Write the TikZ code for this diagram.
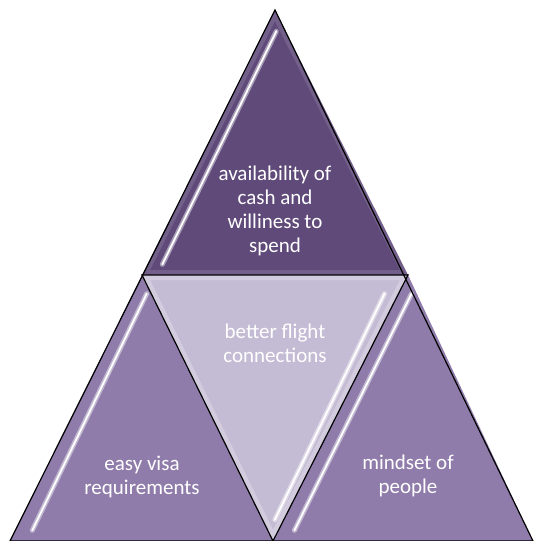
\documentclass[tikz,border=0pt]{standalone}
\usepackage{fontspec}
\setmainfont{Carlito}
\usetikzlibrary{calc}
\definecolor{topPurple}{RGB}{95,74,122}
\definecolor{sidePurple}{RGB}{143,124,170}
\definecolor{midLilac}{RGB}{196,188,212}
\tikzset{
	tri/.style={line width=1.2pt,draw=black,line join=miter},
	tritext/.style={text=white,align=center,font=\fontsize{21}{24}\selectfont},
	glow/.style={line cap=round,line width=5pt,color=white!45!#1},
	gloss/.style={line cap=round,line width=1.8pt,color=white}
}
\begin{document}
\begin{tikzpicture}[line join=round,x=1pt,y=-1pt]
		\useasboundingbox (0,0) rectangle (536,541);
		%%%%%%%%%%%%%%% C O R N E R S %%%%%%%%%%%%%%%%
		\coordinate (apex) at (275,10);
		\coordinate (midL) at (142,275);
		\coordinate (midR) at (408,275);
		\coordinate (baseL) at (10,541);
		\coordinate (baseM) at (273,541);
		\coordinate (baseR) at (533,541);
		%%%%%%%%%%%%%%% T R I A N G L E S %%%%%%%%%%%%%%%%
		%top
		\fill [topPurple] (apex) -- (midL) -- (midR) -- cycle;
		%bottom left
		\fill [sidePurple] (midL) -- (baseL) -- (baseM) -- cycle;
		%middle
		\fill [midLilac] (midL) -- (midR) -- (baseM) -- cycle;
		%bottom right
		\fill [sidePurple] (midR) -- (baseM) -- (baseR) -- cycle;
		%%%%%%%%%%%%%%% S O F T   E D G E S %%%%%%%%%%%%%%%%
		\begin{scope}
			\clip (midL) -- (midR) -- (baseM) -- cycle;
			\draw [line width=10pt,white,opacity=0.25] (midL) -- (midR) -- (baseM) -- cycle;
		\end{scope}
		\begin{scope}
			\clip (apex) -- (midL) -- (midR) -- cycle;
			\draw [line width=10pt,white,opacity=0.12] (apex) -- (midL) -- (midR) -- cycle;
		\end{scope}
		%%%%%%%%%%%%%%% G L O S S %%%%%%%%%%%%%%%%
		%top
		\draw [glow=topPurple] ($(apex)!0.08!(midL)+(12,0)$) -- ($(apex)!0.96!(midL)+(15,0)$);
		\draw [gloss] ($(apex)!0.08!(midL)+(12,0)$) -- ($(apex)!0.96!(midL)+(15,0)$);
		%bottom left
		\draw [glow=sidePurple] ($(midL)!0.07!(baseL)+(14,0)$) -- ($(midL)!0.96!(baseL)+(17,0)$);
		\draw [gloss] ($(midL)!0.07!(baseL)+(14,0)$) -- ($(midL)!0.96!(baseL)+(17,0)$);
		%middle
		\draw [glow=midLilac] ($(midR)!0.07!(baseM)+(-14,0)$) -- ($(midR)!0.92!(baseM)+(-9,0)$);
		\draw [gloss] ($(midR)!0.07!(baseM)+(-14,0)$) -- ($(midR)!0.92!(baseM)+(-9,0)$);
		%bottom right
		\draw [glow=sidePurple] ($(midR)!0.07!(baseM)+(13,0)$) -- ($(midR)!0.96!(baseM)+(16,0)$);
		\draw [gloss] ($(midR)!0.07!(baseM)+(13,0)$) -- ($(midR)!0.96!(baseM)+(16,0)$);
		%%%%%%%%%%%%%%% O U T L I N E S %%%%%%%%%%%%%%%%
		\draw [tri] (apex) -- (baseL) -- (baseR) -- cycle;
		\draw [tri] (midL) -- (midR) -- (baseM) -- cycle;
		%%%%%%%%%%%%%%% T A G S %%%%%%%%%%%%%%%%
		\node [tritext] (cash) at (275,211) {availability of\\cash and\\williness to\\spend};
		\node [tritext] (flight) at (275,343) {better flight\\connections};
		\node [tritext] (visa) at (142,477) {easy visa\\requirements};
		\node [tritext] (mindset) at (408,476) {mindset of\\people};
\end{tikzpicture}
\end{document}
